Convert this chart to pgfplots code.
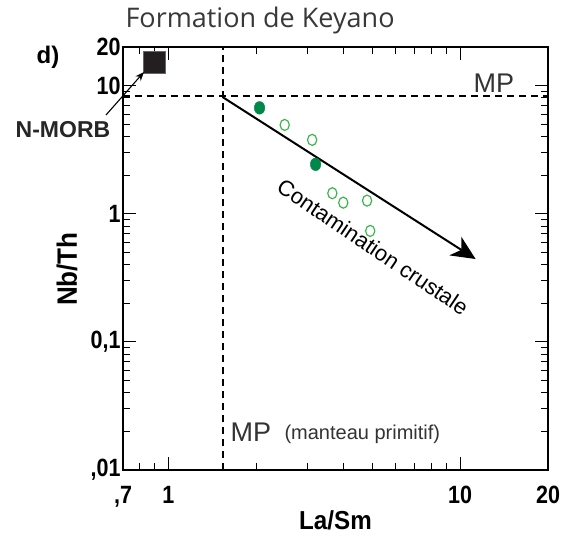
\documentclass[border=0pt]{standalone}
\usepackage{fontspec}
\setmainfont{Liberation Sans}
\newfontfamily\titlefont{Open Sans}
\usepackage{pgfplots}
\pgfplotsset{compat=1.18}
\usetikzlibrary{arrows.meta}
\definecolor{dkgreen}{HTML}{00874A}
\definecolor{ltgreen}{HTML}{3DB54A}
\definecolor{sqfill}{HTML}{231F20}
\newcommand{\cb}[1]{\scalebox{0.86}[1]{\bfseries #1}}

\begin{document}
\begin{tikzpicture}
\useasboundingbox (-123pt,-71pt) rectangle (447pt,470pt);
\begin{axis}[
  at={(0pt,0pt)}, anchor=south west,
  scale only axis, width=425pt, height=423pt,
  xmode=log, ymode=log,
  xmin=0.7, xmax=20, ymin=0.01, ymax=20,
  axis line style={line width=1.8pt},
  tick style={black, line width=1pt},
  major tick length=13pt, minor tick length=7pt,
  tick align=inside,
  /pgf/number format/assume math mode=true,
  xtick={0.7,1,10,20},
  xticklabels={{\cb{,7}},\cb{1},\cb{10},\cb{20}},
  minor xtick={0.8,0.9,2,3,4,5,6,7,8,9},
  ytick={0.01,0.1,1,10,20},
  yticklabels={{\cb{,01}},{\cb{0,1}},\cb{1},\cb{10},\cb{20}},
  minor ytick={0.02,0.03,0.04,0.05,0.06,0.07,0.08,0.09,0.2,0.3,0.4,0.5,0.6,0.7,0.8,0.9,2,3,4,5,6,7,8,9},
  tick label style={font=\fontsize{25}{27}\selectfont},
  xticklabel style={yshift=-13pt},
  yticklabel style={xshift=1pt},
  xlabel={\scalebox{0.93}[1]{\bfseries La/Sm}},
  xlabel style={font=\fontsize{26}{28}\selectfont, at={(axis description cs:0.5,0)}, anchor=center, yshift=-50pt},
  ylabel={\scalebox{0.93}[1]{\bfseries Nb/Th}},
  ylabel style={font=\fontsize{28}{30}\selectfont, at={(axis description cs:-0.132,0.475)}, anchor=center},
  title={Formation de Keyano},
  title style={font=\titlefont\fontsize{27}{30}\selectfont, text=black!78, anchor=base west, at={(axis description cs:0,1)}, xshift=-1pt, yshift=13pt},
  clip=false,
]
% primitive mantle reference lines
\addplot[black, line width=1.5pt, dash pattern=on 7pt off 5pt] coordinates {(1.54,0.01) (1.54,20)};
\addplot[black, line width=1.5pt, dash pattern=on 7pt off 5pt] coordinates {(0.7,8.3) (20,8.3)};
% crustal contamination trend
\addplot[black, line width=2pt, -{Stealth[length=24pt,width=22pt,inset=7pt]}] coordinates {(1.54,8.1) (11.3,0.443)};
% N-MORB
\addplot[only marks, mark=square*, mark size=11pt, mark options={fill=sqfill, draw=black!60, line width=0.6pt}] coordinates {(0.893,15.3)};
% open symbols
\addplot[only marks, mark=o, mark size=4.6pt, mark options={draw=ltgreen, line width=1.2pt, yscale=1.2}] coordinates {
(2.506,4.93) (3.112,3.77) (3.65,1.445) (3.98,1.22) (4.80,1.265) (4.92,0.734)};
% filled symbols
\addplot[only marks, mark=*, mark size=5.3pt, mark options={fill=dkgreen, draw=dkgreen, yscale=1.2}] coordinates {
(2.055,6.70) (3.198,2.43)};
\end{axis}
% annotations (positions in pt relative to lower-left corner of the axis)
\node[font=\fontsize{24}{26}\selectfont\bfseries] at (-75pt,413pt) {d)};
\node[font=\fontsize{23}{25}\selectfont\bfseries, text=black!85] at (-60pt,340pt) {N-MORB};
\draw[black, line width=1.1pt, -{Stealth[length=9pt,width=7pt]}] (-17pt,355pt) -- (21pt,398pt);
\node[font=\fontsize{27}{29}\selectfont, text=black!80, anchor=base west] at (347pt,377pt) {MP};
\node[font=\fontsize{27}{29}\selectfont, text=black!80, anchor=base west] at (104pt,29pt) {MP};
\node[font=\fontsize{20}{22}\selectfont, text=black!80, anchor=base west] at (158pt,31pt) {(manteau primitif)};
\node[font=\fontsize{22}{24}\selectfont, rotate=-34] at (250pt,223pt) {Contamination crustale};
\end{tikzpicture}
\end{document}
